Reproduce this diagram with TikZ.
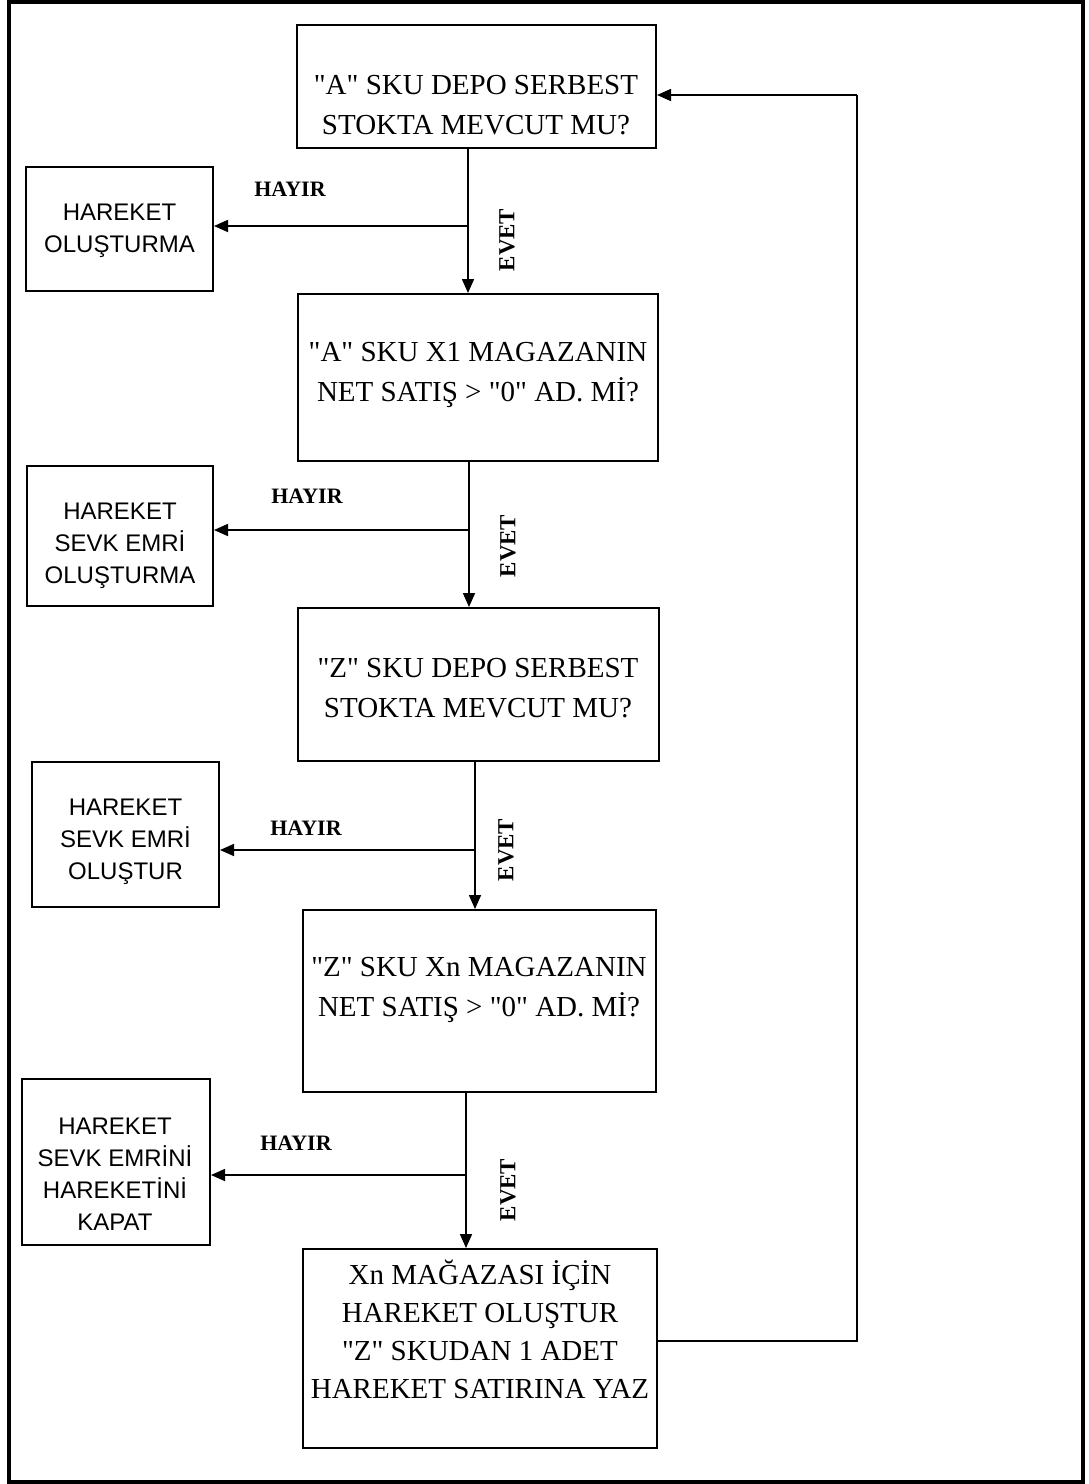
\documentclass[tikz,border=0pt]{standalone}
\usepackage{fontspec}
\setmainfont{Liberation Serif}
% plain family without the TeX mapping, so " stays a straight quote
\newfontfamily\timesfont{Liberation Serif}
\newfontfamily\arialfont{Liberation Sans}
\usetikzlibrary{arrows.meta}

\tikzset{
  box/.style={draw=black, line width=1pt, inner sep=0pt, fill=white},
  qtext/.style={align=center, inner sep=0pt, font=\timesfont\fontsize{14.5}{20}\selectfont},
  atext/.style={align=center, inner sep=0pt, font=\arialfont\fontsize{12}{16}\selectfont},
  nolabel/.style={inner sep=0pt, font=\timesfont\bfseries\fontsize{11}{13}\selectfont},
  yeslabel/.style={inner sep=0pt, rotate=90, font=\timesfont\bfseries\fontsize{11.5}{13}\selectfont},
  flow/.style={draw=black, line width=0.8pt, -{Triangle[length=7pt,width=6pt]}},
  link/.style={draw=black, line width=0.8pt},
}

\begin{document}
\begin{tikzpicture}[x=0.5pt, y=-0.5pt]
  \useasboundingbox (0,0) rectangle (1088,1484);
  % outer frame
  \draw[line width=2pt] (8.5,2) rectangle (1083,1481.5);

  % decision / action boxes in the main column
  \node[box, minimum width=179.5pt, minimum height=61.5pt] (b1) at (476.5,86.5) {};
  \node[box, minimum width=180pt,   minimum height=83.5pt] (b2) at (478,377.5) {};
  \node[box, minimum width=180.5pt, minimum height=76.5pt] (b3) at (478.5,684.5) {};
  \node[box, minimum width=176.5pt, minimum height=91pt]   (b4) at (479.5,1001) {};
  \node[box, minimum width=177pt,   minimum height=99.5pt] (b5) at (480,1348.5) {};

  \node[qtext] (b1t) at (476,105) {"A" SKU DEPO SERBEST\\STOKTA MEVCUT MU?};
  \node[qtext] (b2t) at (478,375) {"A" SKU X1 MAGAZANIN\\NET SATIŞ > "0" AD. Mİ?};
  \node[qtext] (b3t) at (478,688) {"Z" SKU DEPO SERBEST\\STOKTA MEVCUT MU?};
  \node[qtext] (b4t) at (479,990) {"Z" SKU Xn MAGAZANIN\\NET SATIŞ > "0" AD. Mİ?};
  \node[qtext, font=\timesfont\fontsize{14.5}{19}\selectfont] (b5t) at (480,1329)
    {Xn MAĞAZASI İÇİN\\HAREKET OLUŞTUR\\"Z" SKUDAN 1 ADET\\HAREKET SATIRINA YAZ};

  % side boxes for the negative branches
  \node[box, minimum width=93.5pt, minimum height=62pt] (l1) at (119.5,229) {};
  \node[box, minimum width=93pt,   minimum height=70pt] (l2) at (120,536) {};
  \node[box, minimum width=93.5pt, minimum height=72.5pt] (l3) at (125.5,834.5) {};
  \node[box, minimum width=94pt,   minimum height=83pt] (l4) at (116,1162) {};

  \node[atext] (l1t) at (119.5,231) {HAREKET\\OLUŞTURMA};
  \node[atext] (l2t) at (120,546) {HAREKET\\SEVK EMRİ\\OLUŞTURMA};
  \node[atext] (l3t) at (125.5,841.5) {HAREKET\\SEVK EMRİ\\OLUŞTUR};
  \node[atext] (l4t) at (115,1174.5) {HAREKET\\SEVK EMRİNİ\\HAREKETİNİ\\KAPAT};

  % branch points on the vertical connectors
  \coordinate (j1) at (468,226);
  \coordinate (j2) at (469,530);
  \coordinate (j3) at (475,850);
  \coordinate (j4) at (466,1175);

  % "yes" connectors
  \draw[flow] (j1 |- b1.south) -- (j1 |- b2.north);
  \draw[flow] (j2 |- b2.south) -- (j2 |- b3.north);
  \draw[flow] (j3 |- b3.south) -- (j3 |- b4.north);
  \draw[flow] (j4 |- b4.south) -- (j4 |- b5.north);

  % "no" connectors
  \draw[flow] (j1) -- (j1 -| l1.east);
  \draw[flow] (j2) -- (j2 -| l2.east);
  \draw[flow] (j3) -- (j3 -| l3.east);
  \draw[flow] (j4) -- (j4 -| l4.east);

  % branch labels
  \node[nolabel] (h1) at (290,189) {HAYIR};
  \node[nolabel] (h2) at (307,496) {HAYIR};
  \node[nolabel] (h3) at (306,828) {HAYIR};
  \node[nolabel] (h4) at (296,1143) {HAYIR};
  \node[yeslabel] (e1) at (507,240) {EVET};
  \node[yeslabel] (e2) at (508,546) {EVET};
  \node[yeslabel] (e3) at (506,850) {EVET};
  \node[yeslabel] (e4) at (508,1190) {EVET};

  % loop back to the first question
  \coordinate (r1) at (857,1341);
  \coordinate (r2) at (857,95);
  \draw[link] (b5.east |- r1) -- (r1) -- (r2);
  \draw[flow] (r2) -- (r2 -| b1.east);
\end{tikzpicture}
\end{document}
